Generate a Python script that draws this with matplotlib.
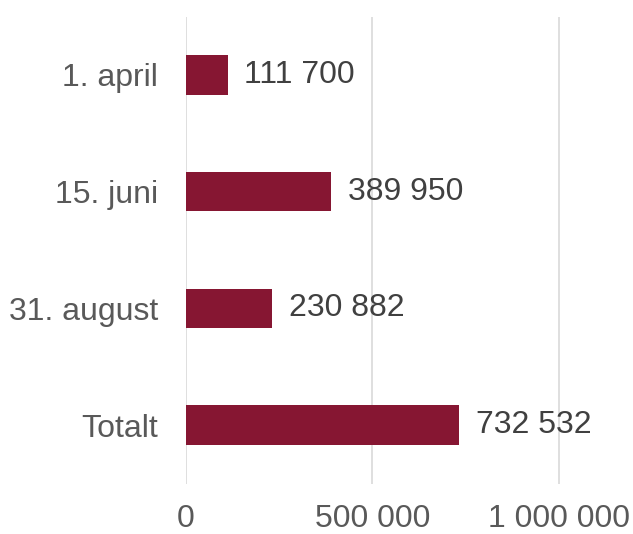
import matplotlib
matplotlib.use("Agg")
import matplotlib.pyplot as plt

categories = ["1. april", "15. juni", "31. august", "Totalt"]
values = [111700, 389950, 230882, 732532]
tick_values = [0, 500000, 1000000]
tick_labels = ["0", "500 000", "1 000 000"]

def fmt(v):
    return f"{v:,}".replace(",", " ")

plt.rcParams['font.family'] = ['Liberation Sans', 'DejaVu Sans']

fig = plt.figure(figsize=(6.33, 5.34), dpi=100)
ax = fig.add_axes([186/633, 1-483.5/534, (596-186)/633, (483.5-16.5)/534])

bars = ax.barh(range(len(categories)), values, height=0.34, color="#861632", zorder=3)
ax.bar_label(bars, labels=[fmt(v) for v in values], padding=12, fontsize=23, color="#404040")

ax.set_ylim(3.5, -0.5)
ax.set_xlim(0, 1.1e6)
ax.set_yticks(range(len(categories)))
ax.set_yticklabels(categories, fontsize=23, color="#595959")
ax.set_xticks(tick_values)
ax.set_xticklabels(tick_labels, fontsize=23, color="#595959")
ax.tick_params(axis='both', length=0)
ax.tick_params(axis='x', pad=15)
ax.tick_params(axis='y', pad=20)
ax.xaxis.grid(True, color="#d9d9d9", linewidth=1.2, zorder=0)
for s in ax.spines.values():
    s.set_visible(False)

fig.savefig("out.png", dpi=100)
